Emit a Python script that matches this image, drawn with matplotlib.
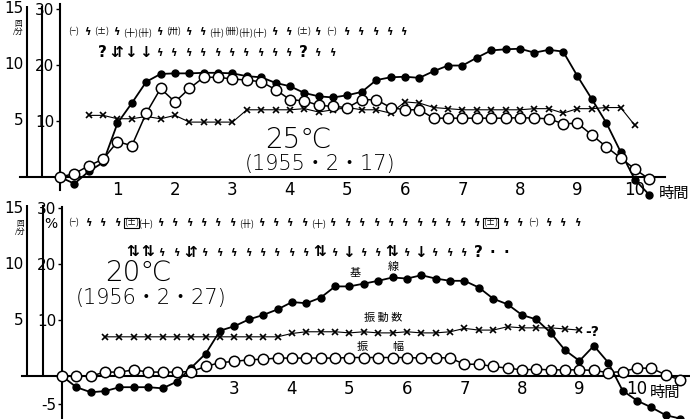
import matplotlib.pyplot as plt
import numpy as np

plt.rcParams['font.family'] = ['DejaVu Sans', 'Noto Sans CJK JP']

# 25℃ (1955.2.17) -- readings every 15 minutes
t_top = np.arange(42) * 0.25
base_top = [0, -0.6, 0.5, 1.3, 4.8, 6.6, 8.5, 9.2, 9.25, 9.25, 9.3, 9.3, 9.25, 9.0,
            8.9, 8.4, 8.1, 7.5, 7.2, 7.1, 7.3, 7.6, 8.65, 8.9, 8.95, 8.85, 9.45, 9.95,
            9.95, 10.65, 11.3, 11.4, 11.45, 11.1, 11.35, 11.2, 9.0, 6.95, 4.85, 2.25,
            -0.25, -1.6]
amp_top = [0, 0.3, 1.0, 1.6, 3.15, 2.8, 5.7, 7.9, 6.7, 7.9, 8.9, 8.9, 8.75, 8.65,
           8.5, 7.8, 6.9, 6.8, 6.4, 6.3, 6.2, 6.9, 6.9, 6.2, 6.0, 6.0, 5.25, 5.25,
           5.25, 5.25, 5.25, 5.25, 5.3, 5.25, 5.2, 4.75, 4.8, 3.75, 2.7, 1.7, 0.7, -0.2]
t_freq_top = np.arange(2, 41) * 0.25
freq_top = [5.5, 5.5, 5.2, 5.2, 5.4, 5.2, 5.5, 4.9, 4.9, 4.9, 4.9, 6.0, 6.0, 6.0,
            6.0, 6.1, 5.8, 6.0, 6.2, 6.0, 6.0, 5.7, 6.7, 6.6, 6.2, 6.1, 6.0, 6.0,
            6.0, 6.0, 6.0, 6.1, 6.1, 5.7, 6.1, 6.1, 6.2, 6.2, 4.6]

# 20℃ (1956.2.27)
t_bot = np.arange(44) * 0.25
base_bot = [0, -1.0, -1.45, -1.35, -1.0, -1.0, -1.0, -1.1, -0.5, 0.75, 2.0, 4.05,
            4.45, 5.05, 5.45, 5.95, 6.6, 6.5, 7.0, 8.0, 8.0, 8.25, 8.5, 8.8, 8.7, 9.0,
            8.7, 8.5, 8.5, 7.9, 6.9, 6.4, 5.45, 5.05, 3.85, 2.3, 1.35, 2.7, 1.2, -1.3,
            -2.2, -2.8, -3.5, -3.8]
amp_bot = [0, 0, 0, 0.35, 0.35, 0.55, 0.35, 0.35, 0.35, 0.4, 0.85, 1.2, 1.3, 1.45,
           1.5, 1.6, 1.6, 1.6, 1.6, 1.6, 1.65, 1.65, 1.65, 1.65, 1.65, 1.6, 1.65, 1.6,
           1.05, 1.05, 0.85, 0.7, 0.55, 0.6, 0.55, 0.55, 0.55, 0.5, 0.3, 0.4, 0.7,
           0.7, 0.1, -0.35]
t_freq_bot = np.arange(3, 37) * 0.25
freq_bot = [3.5] * 13 + [3.8, 3.95, 3.95, 3.95, 3.85, 3.95, 3.85, 3.85, 3.95, 3.85,
                         3.85, 3.95, 4.25, 4.1, 4.1, 4.4, 4.3, 4.3, 4.3, 4.2, 4.1]

# reaction marks written above each reading
marks_top_1 = ['(−)', 'ϟ', '(±)', 'ϟ', '(十)', '(卄)', 'ϟ', '(卅)', 'ϟ', 'ϟ', '(卄)',
               '(卌)', '(卄)', '(十)', 'ϟ', 'ϟ', '(±)', 'ϟ', '(−)', 'ϟ', 'ϟ', 'ϟ', 'ϟ', 'ϟ']
marks_top_2 = ['?', '⇵', '↓', '↓'] + ['ϟ'] * 10 + ['?', 'ϟ', 'ϟ']
marks_bot_1 = (['(−)', 'ϟ', 'ϟ', 'ϟ', '[±]', '(十)'] + ['ϟ'] * 6 + ['(卄)'] + ['ϟ'] * 4
               + ['(十)'] + ['ϟ'] * 11 + ['[±]', 'ϟ', 'ϟ', '(−)', 'ϟ', 'ϟ', 'ϟ'])
marks_bot_2 = (['⇅', '⇅', 'ϟ', 'ϟ', '⇵'] + ['ϟ'] * 8
               + ['⇅', 'ϟ', '↓', 'ϟ', 'ϟ', '⇅', 'ϟ', '↓', 'ϟ', 'ϟ', 'ϟ', '?', '·', '·'])

NUM = 'Liberation Sans Narrow'
JP = 'Noto Sans CJK JP'

fig = plt.figure(figsize=(6.9, 4.19), dpi=100)
ax1 = fig.add_axes([0, 214 / 419, 1, 205 / 419])
ax2 = fig.add_axes([0, 0, 1, 214 / 419])
ax1.set_xlim(-1.0435, 10.957)
ax1.set_ylim(-2.5, 15.8)
ax2.set_xlim(-1.078, 10.922)
ax2.set_ylim(-3.84, 15.27)


def frame(ax, ybounds, xright, yticks, ylabels, xticks, scale_x):
    ax.patch.set_alpha(0)
    for s in ['top', 'right']:
        ax.spines[s].set_visible(False)
    ax.spines['left'].set_position(('data', 0))
    ax.spines['bottom'].set_position(('data', 0))
    ax.spines['left'].set_bounds(*ybounds)
    ax.spines['bottom'].set_bounds(-0.7, xright)
    for s in ['left', 'bottom']:
        ax.spines[s].set_linewidth(1.5)
    ax.set_yticks(yticks)
    ax.set_yticklabels(ylabels, family=NUM, fontsize=11)
    ax.tick_params(axis='y', length=3, width=1, pad=1)
    ax.set_xticks(xticks)
    ax.set_xticklabels([str(v) for v in xticks], family=NUM, fontsize=12)
    ax.tick_params(axis='x', length=0, pad=3)
    # the two extra scale bars on the left (回/分 and %)
    ax.vlines(scale_x, 0, 15.3, color='k', lw=1.5)
    for v in (5, 10, 15):
        ax.text(scale_x[0] - 0.06, v, str(v), ha='right', va='center',
                family=NUM, fontsize=11)


# the inner scale is in %, so -5 % sits at half the height of 5 回/分
frame(ax1, (-1.2, 15.4), 10.52, [5, 10, 15], ['10', '20', '30'], range(1, 11),
      [-0.574, -0.313])
frame(ax2, (-3.84, 15.1), 10.92, [-2.5, 5, 10, 15], ['-5', '10', '20', '30'],
      range(3, 11), [-0.609, -0.33])


def draw_series(ax, t, base, amp, tf, freq):
    ax.plot(t, base, color='k', lw=1.3, marker='o', ms=5, zorder=3)
    ax.plot(t, amp, color='k', lw=1.1, marker='o', ms=7.5, mfc='white',
            mew=1.1, zorder=4)
    ax.plot(tf, freq, color='k', lw=0.8, marker='x', ms=5, mew=1.2, zorder=2)


draw_series(ax1, t_top, base_top, amp_top, t_freq_top, freq_top)
draw_series(ax2, t_bot, base_bot, amp_bot, t_freq_bot, freq_bot)


def mark_row(ax, tokens, start, y):
    for i, tok in enumerate(tokens):
        x = start + 0.25 * i
        if tok == 'ϟ':
            ax.text(x, y, tok, ha='center', va='center', fontsize=7, weight='bold')
        elif tok in ('?', '·', '↓', '⇅', '⇵'):
            ax.text(x, y, tok, ha='center', va='center', fontsize=11, weight='bold')
        elif tok.startswith('['):
            ax.text(x, y, '(' + tok[1:-1] + ')', ha='center', va='center',
                    family=[NUM, JP], fontsize=6.5,
                    bbox=dict(boxstyle='square,pad=0.0', fc='none', ec='k', lw=0.8))
        else:
            ax.text(x, y, tok, ha='center', va='center', family=[NUM, JP],
                    fontsize=6.5)


mark_row(ax1, marks_top_1, 0.23, 12.95)
mark_row(ax1, marks_top_2, 0.73, 11.1)
mark_row(ax2, marks_bot_1, 0.21, 13.66)
mark_row(ax2, marks_bot_2, 1.235, 11.0)

# titles of the two runs
ax1.text(4.14, 3.3, '25℃', ha='center', va='center', fontsize=20, weight='light')
ax1.text(4.52, 1.2, '(1955・2・17)', ha='center', va='center', fontsize=15,
         weight='light')
ax2.text(1.32, 9.2, '20℃', ha='center', va='center', fontsize=20, weight='light')
ax2.text(1.55, 6.95, '(1956・2・27)', ha='center', va='center', fontsize=15,
         weight='light')

# axis captions
ax1.text(10.68, -1.5, '時間', family=JP, ha='center', va='center', fontsize=11)
ax2.text(10.49, -1.45, '時間', family=JP, ha='center', va='center', fontsize=11)
ax1.text(-0.72, 13.3, '回\n/分', family=JP, ha='center', va='center', fontsize=5.5,
         linespacing=0.9)
ax2.text(-0.72, 13.2, '回\n/分', family=JP, ha='center', va='center', fontsize=5.5,
         linespacing=0.9)
ax2.text(-0.19, 13.6, '%', ha='center', va='center', family=NUM, fontsize=10)

# curve names
ax2.text(5.10, 9.2, '基', family=JP, ha='center', va='center', fontsize=8)
ax2.text(5.76, 9.75, '線', family=JP, ha='center', va='center', fontsize=8)
ax2.text(5.58, 5.2, '振 動 数', family=JP, ha='center', va='center', fontsize=8)
ax2.text(5.22, 2.6, '振', family=JP, ha='center', va='center', fontsize=8)
ax2.text(5.84, 2.6, '幅', family=JP, ha='center', va='center', fontsize=8)
ax2.text(9.1, 3.95, '-?', ha='left', va='center', fontsize=10, weight='bold')

fig.savefig('out.png', dpi=100)
